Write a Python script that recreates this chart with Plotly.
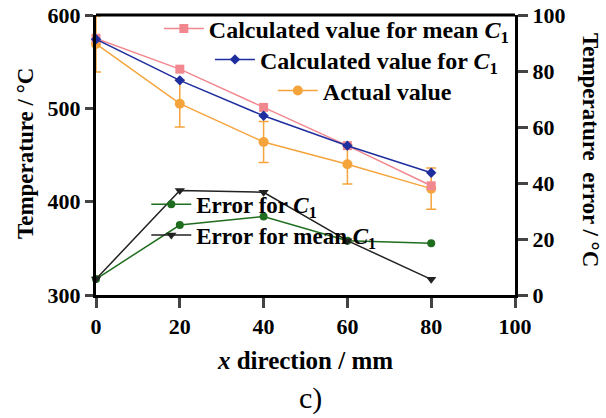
import plotly.graph_objects as go

x = [0, 20, 40, 60, 80]
calc_mean = [575, 542, 501, 460, 417]
calc_c1 = [574, 530, 492, 460, 431]
actual = [569, 505, 464, 440, 414]
actual_err = [30, 25, 22, 21, 22]
err_c1 = [5.7, 25, 28, 19.4, 18.5]
err_mean = [5.7, 37.3, 36.7, 19.4, 5.6]

FONT = "Liberation Serif"
fig = go.Figure()

fig.add_trace(go.Scatter(x=x, y=actual, name="<b>Actual value</b>", mode="lines+markers",
    line=dict(color="#F5A43C", width=1.5), marker=dict(symbol="circle", size=10, color="#F5A43C"),
    error_y=dict(type="data", array=actual_err, color="#F5A43C", thickness=1.5, width=5),
    cliponaxis=False, legend="legend4"))
fig.add_trace(go.Scatter(x=x, y=calc_mean, name="<b>Calculated value for mean <i>C</i><sub>1</sub></b>", mode="lines+markers",
    line=dict(color="#F2888F", width=1.5), marker=dict(symbol="square", size=9, color="#F2888F"),
    cliponaxis=False, legend="legend2"))
fig.add_trace(go.Scatter(x=x, y=calc_c1, name="<b>Calculated value for <i>C</i><sub>1</sub></b>", mode="lines+markers",
    line=dict(color="#1F2E9E", width=1.5), marker=dict(symbol="diamond", size=8, color="#1F2E9E"),
    cliponaxis=False, legend="legend3"))
fig.add_trace(go.Scatter(x=x, y=err_c1, name="<b>Error for <i>C</i><sub>1</sub></b>", mode="lines+markers",
    line=dict(color="#1F6E1F", width=1.5), marker=dict(symbol="circle", size=8, color="#1F6E1F"),
    cliponaxis=False, yaxis="y2", legend="legend5"))
fig.add_trace(go.Scatter(x=x, y=err_mean, name="<b>Error for mean <i>C</i><sub>1</sub></b>", mode="lines+markers",
    line=dict(color="#222222", width=1.5), marker=dict(symbol="triangle-down", size=9, color="#222222"),
    cliponaxis=False, yaxis="y2", legend="legend6"))

lg = dict(font=dict(family=FONT, size=24, color="black", weight="bold"), bgcolor="rgba(0,0,0,0)",
          yanchor="middle", xanchor="left", itemwidth=40)
lg_err = dict(lg, font=dict(family=FONT, size=23, color="black", weight="bold"))
axfont = dict(family=FONT, size=22, color="black", weight="bold")

def b(t):
    return "<b>" + t + "</b>"

fig.update_layout(
    width=606, height=418, margin=dict(l=96, r=91, t=15, b=123, autoexpand=False),
    paper_bgcolor="white", plot_bgcolor="white",
    font=dict(family=FONT, color="black", weight="bold"),
    showlegend=True,
    legend2=dict(lg, x=0.150, y=0.950),
    legend3=dict(lg, x=0.272, y=0.840),
    legend4=dict(lg, x=0.422, y=0.729),
    legend5=dict(lg_err, x=0.120, y=0.324),
    legend6=dict(lg_err, x=0.120, y=0.214),
    xaxis=dict(range=[0, 100], tickvals=[0, 20, 40, 60, 80, 100], ticktext=[b(str(v)) for v in [0, 20, 40, 60, 80, 100]],
               ticks="outside", ticklen=10, tickwidth=3,
               showline=True, linewidth=3, linecolor="black", showgrid=False, zeroline=False,
               tickfont=axfont, title=dict(text=b("<i>x</i> direction / mm"), font=dict(family=FONT, size=25, weight="bold"), standoff=14)),
    yaxis=dict(range=[300, 600], tickvals=[300, 400, 500, 600], ticktext=[b(str(v)) for v in [300, 400, 500, 600]],
               ticks="outside", ticklen=8, tickwidth=3,
               showline=True, linewidth=3, linecolor="black", showgrid=False, zeroline=False,
               tickfont=axfont),
    yaxis2=dict(range=[0, 100], tickvals=[0, 20, 40, 60, 80, 100], ticktext=[b(str(v)) for v in [0, 20, 40, 60, 80, 100]],
                ticks="outside", ticklen=10, tickwidth=3,
                overlaying="y", side="right", showline=True, linewidth=3, linecolor="black", showgrid=False, zeroline=False,
                tickfont=axfont),
    shapes=[dict(type="line", xref="paper", yref="paper", x0=0, x1=1, y0=1, y1=1, line=dict(color="black", width=3))],
    annotations=[
        dict(text=b("Temperature / °C"), xref="paper", yref="paper", x=-0.1695, y=0.507, textangle=-90,
             showarrow=False, font=dict(family=FONT, size=23, weight="bold"), xanchor="center", yanchor="middle"),
        dict(text=b("Temperature  error / °C"), xref="paper", yref="paper", x=1.179, y=0.518, textangle=90,
             showarrow=False, font=dict(family=FONT, size=23, weight="bold"), xanchor="center", yanchor="middle"),
        dict(text="c)", xref="paper", yref="paper", x=0.511, y=-0.368, showarrow=False,
             font=dict(family=FONT, size=30, weight="normal"), xanchor="center", yanchor="middle"),
    ],
)

fig.write_html("out.html")
